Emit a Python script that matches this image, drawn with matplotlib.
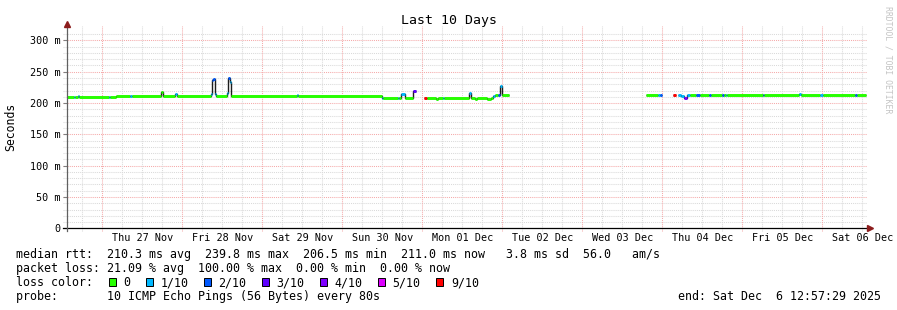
import datetime as dt
import matplotlib
matplotlib.use("Agg")
import matplotlib.pyplot as plt
import matplotlib.dates as mdates
from matplotlib.lines import Line2D
from matplotlib.patches import Rectangle

plt.rcParams['font.family'] = 'DejaVu Sans Mono'

W, H = 897, 310
t_start = dt.datetime(2025, 11, 26, 13, 18)
t_end = t_start + dt.timedelta(days=10)

# median rtt: segment start / end (hours after t_start),
# median in ms, lost pings out of 10
seg_t0 = [0.0, 2.2, 2.6, 3.4, 3.8, 12.7, 13.0, 14.8, 19.1, 19.6,
          28.4, 28.9, 32.6, 33.2, 43.3, 43.7, 44.0, 44.5, 44.9, 48.1,
          48.5, 49.0, 49.4, 69.1, 69.5, 94.7, 95.0, 99.4, 99.8, 100.3,
          101.5, 103.9, 107.3, 108.1, 110.8, 111.5, 112.9, 113.3, 120.7, 121.2,
          122.5, 123.2, 126.0, 127.4, 127.9, 128.5, 129.4, 130.0, 130.7,
          173.9, 177.5, 178.0, 182.0, 183.3, 184.3, 185.2, 186.2, 186.9, 188.9,
          189.9, 192.8, 193.2, 196.5, 197.2, 197.8, 198.2, 208.8, 209.3, 219.7,
          220.4, 226.1, 226.8, 236.5, 237.1]
seg_t1 = [2.2, 2.6, 3.4, 3.8, 12.7, 13.0, 14.8, 19.1, 19.6, 28.4,
          28.9, 32.6, 33.2, 43.3, 43.7, 44.0, 44.5, 44.9, 48.1, 48.5,
          49.0, 49.4, 69.1, 69.5, 94.7, 95.0, 99.4, 99.8, 100.3, 101.5,
          103.9, 104.7, 108.1, 110.8, 111.5, 112.9, 113.3, 120.7, 121.2, 122.5,
          123.2, 126.0, 127.4, 127.9, 128.5, 129.4, 130.0, 130.7, 132.8,
          177.5, 178.0, 178.6, 182.8, 184.3, 185.2, 186.2, 186.9, 188.9, 189.9,
          192.8, 193.2, 196.5, 197.2, 197.8, 198.2, 208.8, 209.3, 219.7, 220.4,
          226.1, 226.8, 236.5, 237.1, 239.8]
seg_ms = [210.3, 210.3, 210.3, 210.8, 210.3, 210.3, 210.3, 211.0, 211.0, 211.0,
          217.0, 211.0, 214.5, 211.0, 215.0, 236.0, 238.5, 214.5, 211.0, 216.5,
          239.8, 234.0, 211.0, 213.5, 211.0, 208.0, 208.0, 208.0, 208.0, 215.0,
          208.0, 220.0, 208.0, 208.0, 206.8, 208.0, 208.0, 208.0, 215.5, 208.0,
          206.8, 208.0, 206.8, 208.0, 210.8, 213.0, 213.5, 228.0, 213.0,
          212.4, 212.4, 212.4, 212.4, 212.4, 210.5, 208.7, 212.4, 212.4, 212.4,
          212.4, 212.4, 212.4, 212.4, 212.4, 212.4, 212.4, 212.4, 212.4, 214.5,
          212.4, 213.5, 212.4, 212.4, 212.4]
seg_loss = [0, 1, 0, 1, 0, 1, 0, 0, 1, 0,
            0, 0, 1, 0, 1, 2, 2, 1, 0, 1,
            2, 1, 0, 1, 0, 1, 0, 1, 0, 1,
            0, 3, 9, 0, 0, 0, 1, 0, 1, 0,
            0, 0, 0, 0, 1, 0, 2, 1, 0,
            0, 1, 2, 9, 1, 1, 4, 1, 0, 2,
            0, 2, 0, 2, 0, 1, 0, 2, 0, 1,
            0, 1, 0, 2, 0]

loss_levels = [0, 1, 2, 3, 4, 5, 9]
loss_labels = ["0", "1/10", "2/10", "3/10", "4/10", "5/10", "9/10"]
loss_colors = ["#26ff00", "#00b8ff", "#0059ff", "#5e00ff", "#7e00ff", "#dd00ff", "#ff0000"]
color_of = dict(zip(loss_levels, loss_colors))

day_labels = ["Thu 27 Nov", "Fri 28 Nov", "Sat 29 Nov", "Sun 30 Nov", "Mon 01 Dec",
              "Tue 02 Dec", "Wed 03 Dec", "Thu 04 Dec", "Fri 05 Dec", "Sat 06 Dec"]
y_major = [0, 50, 100, 150, 200, 250, 300]
y_labels = ["0", "50 m", "100 m", "150 m", "200 m", "250 m", "300 m"]

legend_rows = [
    "median rtt:  210.3 ms avg  239.8 ms max  206.5 ms min  211.0 ms now   3.8 ms sd  56.0   am/s",
    "packet loss: 21.09 % avg  100.00 % max  0.00 % min  0.00 % now",
    "loss color:",
    "probe:       10 ICMP Echo Pings (56 Bytes) every 80s",
]
end_text = "end: Sat Dec  6 12:57:29 2025"


def hrs(h):
    return mdates.date2num(t_start + dt.timedelta(hours=h))


def fx(px):
    return px / W


def fy(py):
    return 1 - py / H


fig = plt.figure(figsize=(W / 100, H / 100), dpi=100)
ax = fig.add_axes([fx(66.7), fy(228.3), 800 / W, 202.3 / H])
ax.set_xlim(mdates.date2num(t_start), mdates.date2num(t_end))
ax.set_ylim(0, 323)
for s in ax.spines.values():
    s.set_visible(False)

minor_c = "#dadada"
major_c = "#f5aaaa"
dots = (0, (1, 1))

# horizontal grid
x_left = hrs(-1.0)
x_right = mdates.date2num(t_end)
for v in range(10, 320, 10):
    c = major_c if v % 50 == 0 else minor_c
    ax.plot([x_left, x_right], [v, v], color=c, lw=0.75, ls=dots, clip_on=False, zorder=1)

# vertical grid: every 6 h, day boundaries in red
t = dt.datetime(2025, 11, 26, 18)
while t < t_end:
    c = major_c if t.hour == 0 else minor_c
    ax.plot([t, t], [-4, 323], color=c, lw=0.75, ls=dots, clip_on=False, zorder=1)
    t += dt.timedelta(hours=6)

# dark median connector
xs, ys = [], []
for i in range(len(seg_t0)):
    if i > 0 and seg_t0[i] != seg_t1[i - 1]:
        xs.append(float('nan'))
        ys.append(float('nan'))
    xs += [hrs(seg_t0[i]), hrs(seg_t1[i])]
    ys += [seg_ms[i], seg_ms[i]]
ax.plot(xs, ys, color="#1c1c1c", lw=1.0, zorder=3,
        solid_capstyle='butt', solid_joinstyle='miter')

# loss coloured median
lc = ax.hlines(seg_ms, [hrs(a) for a in seg_t0], [hrs(b) for b in seg_t1],
               colors=[color_of[l] for l in seg_loss], lw=2.1, zorder=4)
lc.set_capstyle('butt')

# ticks
ax.set_yticks(y_major)
ax.set_yticklabels(y_labels)
ax.tick_params(axis='y', length=3, width=0.8, color="#808080", pad=1.5, labelsize=7.3)
noon = [dt.datetime(2025, 11, 27, 12) + dt.timedelta(days=i) for i in range(len(day_labels))]
ax.set_xticks(noon)
ax.set_xticklabels(day_labels)
ax.tick_params(axis='x', length=0, pad=3.5, labelsize=7.3)

# axes with arrows
fig.add_artist(Line2D([fx(63), fx(868)], [fy(228.3), fy(228.3)], color="black", lw=0.9))
fig.add_artist(Line2D([fx(66.7), fx(66.7)], [fy(231), fy(25)], color="#606060", lw=0.9))
fig.add_artist(Line2D([fx(870)], [fy(228.3)], marker='>', ms=4, color="#8c1c1c", lw=0))
fig.add_artist(Line2D([fx(66.7)], [fy(23.5)], marker='^', ms=4, color="#8c1c1c", lw=0))

fig.text(0.5, fy(24), "Last 10 Days", ha='center', va='baseline', fontsize=9.5)
fig.text(fx(10.5), fy(126.7), "Seconds", rotation=90, ha='center', va='center', fontsize=8.3)
fig.text(fx(887.5), fy(60), "RRDTOOL / TOBI OETIKER", rotation=270, ha='center', va='center',
         fontsize=5.9, color="#c4c4c4")

# legend
baselines = [258, 272, 286, 300]
for row, yb in zip(legend_rows, baselines):
    fig.text(fx(16), fy(yb), row, ha='left', va='baseline', fontsize=8.4)
fig.text(fx(881), fy(300), end_text, ha='right', va='baseline', fontsize=8.4)

bx = 109.0
for lab, col in zip(loss_labels, loss_colors):
    fig.add_artist(Rectangle((fx(bx), fy(285.7)), 6.7 / W, 7.3 / H, facecolor=col,
                             edgecolor="black", lw=0.7))
    fig.text(fx(bx + 14.3), fy(286), lab, ha='left', va='baseline', fontsize=8.4)
    bx += 14.3 + len(lab) * 7.05 + 15.6

fig.savefig("out.png", dpi=100)
